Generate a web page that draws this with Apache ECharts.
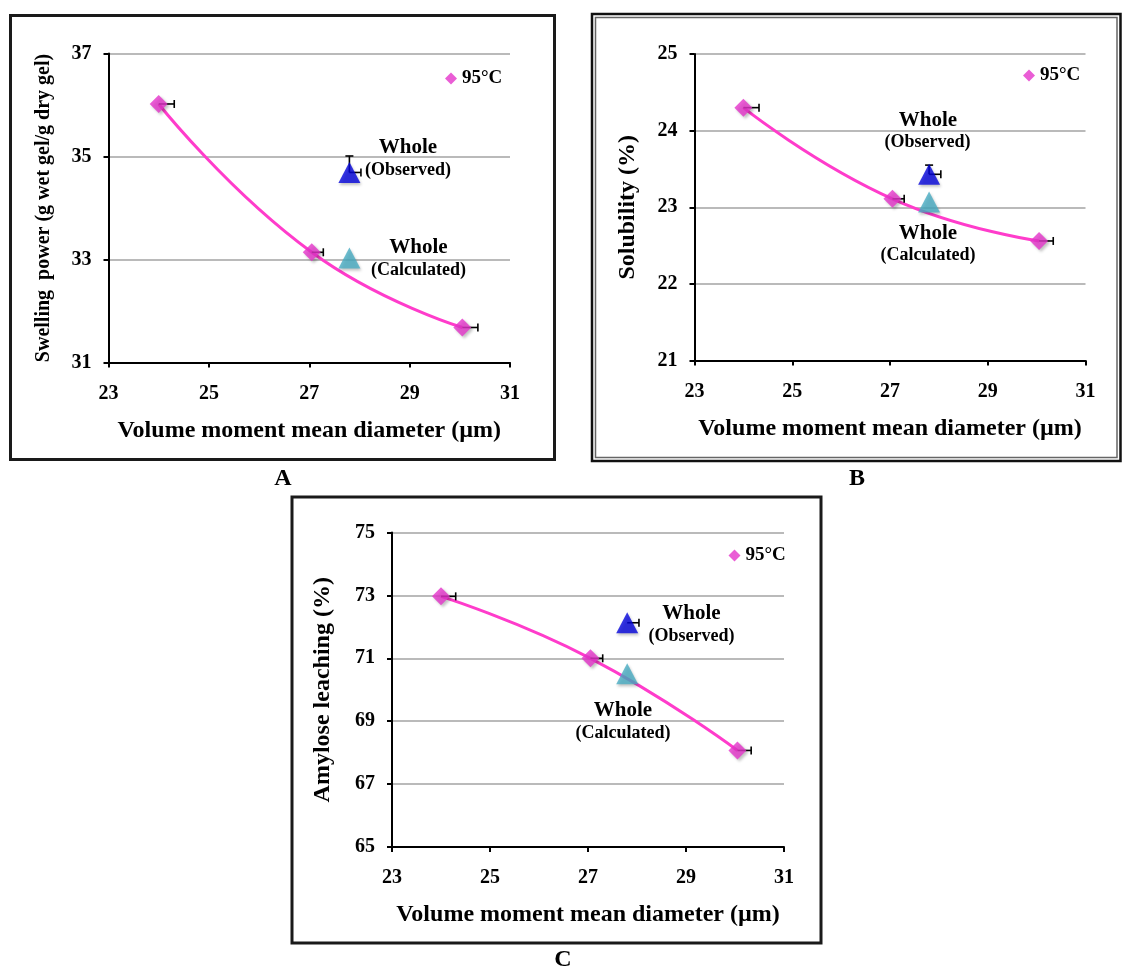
<!DOCTYPE html>
<html>
<head>
<meta charset="utf-8">
<title>Granule size vs. swelling, solubility and amylose leaching at 95°C</title>
<script src="https://cdn.jsdelivr.net/npm/echarts@6/dist/echarts.min.js"></script>
<style>
  html, body { margin: 0; padding: 0; background: #fff; }
  #chart { width: 1124px; height: 971px; }
</style>
</head>
<body>
<div id="chart"></div>
<script>
// ---- data -------------------------------------------------------------
const xTicks = [23, 25, 27, 29, 31];
const diameters = [24.0, 27.05, 30.05];          // fractions, volume moment mean diameter (µm)
const wholeDiameter = 27.8;                      // whole starch

// A: swelling power
const swellingTicks = [31, 33, 35, 37];
const swellingPower = [36.02, 33.14, 31.68];
const swellingErrX = [0.31, 0.23, 0.31];
const swellingObserved = 34.69;
const swellingObservedErrX = 0.23;
const swellingObservedErrY = 0.32;
const swellingCalculated = 33.03;

// B: solubility
const solubilityTicks = [21, 22, 23, 24, 25];
const solubility = [24.30, 23.11, 22.56];
const solubilityErrX = [0.32, 0.24, 0.29];
const solubilityObserved = 23.43;
const solubilityObservedErrX = 0.24;
const solubilityObservedErrY = 0.12;
const solubilityCalculated = 23.07;

// C: amylose leaching
const amyloseTicks = [65, 67, 69, 71, 73, 75];
const amyloseLeaching = [72.97, 71.0, 68.07];
const amyloseErrX = [0.30, 0.25, 0.28];
const amyloseObserved = 72.13;
const amyloseObservedErrX = 0.24;
const amyloseObservedErrY = 0;
const amyloseCalculated = 70.51;

const seriesName = '95°C';
const xTitle = 'Volume moment mean diameter (µm)';

// ---- panels -----------------------------------------------------------
const SERIF = "'Liberation Serif', 'Times New Roman', Times, serif";

const panels = [
  {
    grid: { left: 108.5, top: 53.5, width: 401.5, height: 309 },
    yTitle: 'Swelling  power (g wet gel/g dry gel)', yTitleSize: 20, yGap: 55,
    ticks: swellingTicks, values: swellingPower, errX: swellingErrX,
    obs: swellingObserved, obsErrX: swellingObservedErrX, obsErrY: swellingObservedErrY,
    calc: swellingCalculated,
    legend: { left: 445, top: 69 },
    notes: [
      { text: 'Whole', x: 408, y: 148, size: 21 },
      { text: '(Observed)', x: 408, y: 170, size: 18 },
      { text: 'Whole', x: 418.5, y: 248, size: 21 },
      { text: '(Calculated)', x: 418.5, y: 270.5, size: 18 }
    ]
  },
  {
    grid: { left: 694.5, top: 54, width: 391, height: 306.5 },
    yTitle: 'Solubility (%)', yTitleSize: 24, yGap: 55,
    ticks: solubilityTicks, values: solubility, errX: solubilityErrX,
    obs: solubilityObserved, obsErrX: solubilityObservedErrX, obsErrY: solubilityObservedErrY,
    calc: solubilityCalculated,
    legend: { left: 1023, top: 66 },
    notes: [
      { text: 'Whole', x: 928, y: 121, size: 21 },
      { text: '(Observed)', x: 927.5, y: 142.5, size: 18 },
      { text: 'Whole', x: 928, y: 234, size: 21 },
      { text: '(Calculated)', x: 928, y: 255.5, size: 18 }
    ]
  },
  {
    grid: { left: 392, top: 532.5, width: 392, height: 314.5 },
    yTitle: 'Amylose leaching (%)', yTitleSize: 24, yGap: 57,
    ticks: amyloseTicks, values: amyloseLeaching, errX: amyloseErrX,
    obs: amyloseObserved, obsErrX: amyloseObservedErrX, obsErrY: amyloseObservedErrY,
    calc: amyloseCalculated,
    legend: { left: 728.5, top: 546 },
    notes: [
      { text: 'Whole', x: 691.5, y: 614, size: 21 },
      { text: '(Observed)', x: 691.5, y: 636, size: 18 },
      { text: 'Whole', x: 623, y: 711, size: 21 },
      { text: '(Calculated)', x: 623, y: 733, size: 18 }
    ]
  }
];

const PINK_LINE = '#FF3CCB';
const PINK_MARK = '#E535CA';
const BLUE = '#0505DC';
const TEAL = '#48ADC3';

// error bars: horizontal (+x) and vertical (+y) with end caps
function renderErr(params, api) {
  const x = api.value(0), y = api.value(1), ex = api.value(2), ey = api.value(3);
  const p = api.coord([x, y]);
  const st = { stroke: '#000', lineWidth: 1.6 };
  const children = [];
  if (ex > 0) {
    const q = api.coord([x + ex, y]);
    children.push({ type: 'line', shape: { x1: p[0], y1: p[1], x2: q[0], y2: q[1] }, style: st });
    children.push({ type: 'line', shape: { x1: q[0], y1: q[1] - 4, x2: q[0], y2: q[1] + 4 }, style: st });
  }
  if (ey > 0) {
    const q = api.coord([x, y + ey]);
    children.push({ type: 'line', shape: { x1: p[0], y1: p[1], x2: q[0], y2: q[1] }, style: st });
    children.push({ type: 'line', shape: { x1: q[0] - 4, y1: q[1], x2: q[0] + 4, y2: q[1] }, style: st });
  }
  return { type: 'group', children };
}

const grids = [], xAxes = [], yAxes = [], series = [], legends = [], graphics = [];

panels.forEach((pn, i) => {
  grids.push(Object.assign({ containLabel: false }, pn.grid));

  xAxes.push({
    type: 'value', gridIndex: i,
    min: xTicks[0], max: xTicks[xTicks.length - 1], interval: xTicks[1] - xTicks[0],
    name: xTitle, nameLocation: 'middle', nameGap: 56,
    nameTextStyle: { fontFamily: SERIF, fontWeight: 'bold', fontSize: 24, color: '#000' },
    axisLine: { show: true, onZero: false, lineStyle: { color: '#000', width: 2 } },
    axisTick: { show: true, inside: false, length: 5, lineStyle: { color: '#000', width: 2 } },
    axisLabel: { fontFamily: SERIF, fontWeight: 'bold', fontSize: 20, color: '#000', margin: 21 },
    splitLine: { show: false }
  });

  const t = pn.ticks;
  yAxes.push({
    type: 'value', gridIndex: i,
    min: t[0], max: t[t.length - 1], interval: t[1] - t[0],
    name: pn.yTitle, nameLocation: 'middle', nameGap: pn.yGap,
    nameTextStyle: { fontFamily: SERIF, fontWeight: 'bold', fontSize: pn.yTitleSize, color: '#000' },
    axisLine: { show: true, onZero: false, lineStyle: { color: '#000', width: 2 } },
    axisTick: { show: true, inside: false, length: 5, lineStyle: { color: '#000', width: 2 } },
    axisLabel: { fontFamily: SERIF, fontWeight: 'bold', fontSize: 20, color: '#000', margin: 17 },
    splitLine: { show: true, lineStyle: { color: '#A3A3A3', width: 1.5 } }
  });

  const pts = diameters.map((d, k) => [d, pn.values[k]]);

  // fitted trend through the fractions
  series.push({
    type: 'line', xAxisIndex: i, yAxisIndex: i, data: pts,
    smooth: 0.5, showSymbol: false, symbol: 'none', silent: true,
    lineStyle: { color: PINK_LINE, width: 3 }, z: 2
  });

  // error bars
  const errData = diameters.map((d, k) => [d, pn.values[k], pn.errX[k], 0])
    .concat([[wholeDiameter, pn.obs, pn.obsErrX, pn.obsErrY]]);
  series.push({
    type: 'custom', xAxisIndex: i, yAxisIndex: i, data: errData,
    dimensions: ['x', 'y', 'ex', 'ey'], encode: { x: 0, y: 1 },
    renderItem: renderErr, silent: true, z: 3
  });

  // fractions
  series.push({
    type: 'scatter', name: seriesName, xAxisIndex: i, yAxisIndex: i, data: pts,
    symbol: 'diamond', symbolSize: 18,
    itemStyle: { color: PINK_MARK, shadowColor: 'rgba(0,0,0,0.3)', shadowBlur: 3, shadowOffsetX: 2, shadowOffsetY: 2 },
    z: 4
  });

  // whole starch: observed and calculated
  series.push({
    type: 'scatter', name: 'Whole (Observed)', xAxisIndex: i, yAxisIndex: i,
    data: [[wholeDiameter, pn.obs]], symbol: 'triangle', symbolSize: [22, 21],
    itemStyle: { color: BLUE, shadowColor: 'rgba(0,0,0,0.3)', shadowBlur: 3, shadowOffsetX: 1, shadowOffsetY: 2 },
    z: 5
  });
  series.push({
    type: 'scatter', name: 'Whole (Calculated)', xAxisIndex: i, yAxisIndex: i,
    data: [[wholeDiameter, pn.calc]], symbol: 'triangle', symbolSize: [22, 21],
    itemStyle: { color: TEAL, shadowColor: 'rgba(0,0,0,0.3)', shadowBlur: 3, shadowOffsetX: 1, shadowOffsetY: 2 },
    z: 5
  });

  legends.push({
    data: [seriesName], left: pn.legend.left, top: pn.legend.top, padding: 0,
    icon: 'diamond', itemWidth: 12, itemHeight: 12, itemGap: 5,
    selectedMode: false,
    itemStyle: { color: PINK_MARK, shadowBlur: 0, shadowOffsetX: 0, shadowOffsetY: 0 },
    textStyle: { fontFamily: SERIF, fontWeight: 'bold', fontSize: 19, color: '#000', padding: [0, 0, 0, 0] }
  });

  pn.notes.forEach(n => {
    graphics.push({
      type: 'text', x: n.x, y: n.y, silent: true, z: 10,
      style: {
        text: n.text, fill: '#000',
        font: 'bold ' + n.size + 'px ' + SERIF,
        align: 'center', verticalAlign: 'middle',
        textAlign: 'center', textVerticalAlign: 'middle'
      }
    });
  });
});

// panel frames
graphics.push(
  { type: 'rect', silent: true, shape: { x: 10.5, y: 15.5, width: 544, height: 444 },
    style: { fill: null, stroke: '#1a1a1a', lineWidth: 3 } },
  { type: 'rect', silent: true, shape: { x: 592, y: 14, width: 528.5, height: 447 },
    style: { fill: null, stroke: '#111', lineWidth: 2.5 } },
  { type: 'rect', silent: true, shape: { x: 595.5, y: 17.5, width: 521.5, height: 440 },
    style: { fill: null, stroke: '#666', lineWidth: 1.5 } },
  { type: 'rect', silent: true, shape: { x: 292, y: 497, width: 529, height: 446 },
    style: { fill: null, stroke: '#1a1a1a', lineWidth: 3 } }
);

// panel letters
[['A', 283, 479], ['B', 857, 479], ['C', 563, 960]].forEach(([t, x, y]) => {
  graphics.push({
    type: 'text', x, y, silent: true,
    style: { text: t, fill: '#000', font: 'bold 24px ' + SERIF,
      align: 'center', verticalAlign: 'middle', textAlign: 'center', textVerticalAlign: 'middle' }
  });
});

const chart = echarts.init(document.getElementById('chart'), null, { renderer: 'canvas' });
chart.setOption({
  animation: false,
  backgroundColor: '#ffffff',
  grid: grids,
  xAxis: xAxes,
  yAxis: yAxes,
  legend: legends,
  series: series,
  graphic: { elements: graphics }
});
</script>
</body>
</html>
